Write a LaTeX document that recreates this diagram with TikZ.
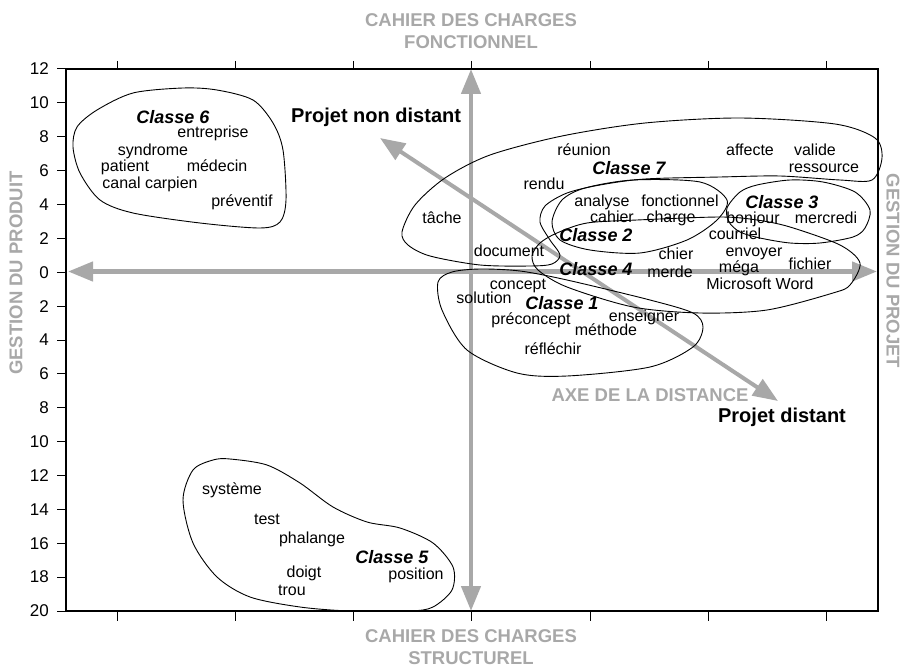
\documentclass[tikz,border=0pt]{standalone}
\usepackage{fontspec}
\setmainfont{Liberation Sans}
\usetikzlibrary{arrows.meta}
\definecolor{axisgray}{RGB}{168,168,168}

\begin{document}
\begin{tikzpicture}[x=1pt,y=-1pt,
	word/.style={inner sep=0pt,text height=11.5pt,text depth=3.4pt,font=\fontsize{16}{18}\selectfont},
	classe/.style={inner sep=0pt,text height=13pt,text depth=0pt,font=\fontsize{18}{20}\selectfont\bfseries\itshape},
	pole/.style={inner sep=0pt,font=\fontsize{20}{22}\selectfont\bfseries},
	axislabel/.style={inner sep=0pt,text=axisgray,align=center,font=\fontsize{18.5}{22.5}\selectfont\bfseries},
	ticklabel/.style={inner sep=0pt,anchor=east,font=\fontsize{17}{19}\selectfont},
	blob/.style={line width=0.9pt},
	bigarrow/.style={draw=axisgray,fill=axisgray,line width=4.5pt,
		{Triangle[length=25pt,width=19pt]}-{Triangle[length=25pt,width=19pt]}}]
		\useasboundingbox (0,0) rectangle (906,669);
		% frame and ticks
		\draw[line width=1.1pt] (66,69) rectangle (878,611);
		\foreach \lab [count=\i from 0] in {12,10,8,6,4,2,0,2,4,6,8,10,12,14,16,18,20}{
			\draw[line width=1pt] (57,{69+33.875*\i}) -- (66,{69+33.875*\i});
			\node[ticklabel] (ylab\i) at (49,{69+33.875*\i}) {\lab};
		}
		\foreach \k in {0,...,6}{
			\draw[line width=1pt] ({117+118.33*\k},61) -- ({117+118.33*\k},69);
			\draw[line width=1pt] ({117+118.33*\k},611) -- ({117+118.33*\k},621);
		}
		%
		\coordinate (top) at (471,69);
		\coordinate (bot) at (471,611);
		\coordinate (left) at (68,271.5);
		\coordinate (right) at (877,271.5);
		\coordinate (near) at (380,138);
		\coordinate (far) at (778,401);
		% main axes
		\draw[bigarrow] (left) -- (right);
		\draw[bigarrow] (bot) -- (top);
		% distance axis
		\draw[bigarrow,line width=4pt] (near) -- (far);
		%
		\node[axislabel] (fonct) at (471,31) {CAHIER DES CHARGES\\FONCTIONNEL};
		\node[axislabel] (struct) at (471,647) {CAHIER DES CHARGES\\STRUCTUREL};
		\node[axislabel,rotate=90] (produit) at (16,273) {GESTION DU PRODUIT};
		\node[axislabel,rotate=-90] (projet) at (893,271) {GESTION DU PROJET};
		\node[axislabel] (dist) at (650,395) {AXE DE LA DISTANCE};
		\node[pole] (nondist) at (376,117) {Projet non distant};
		\node[pole] (distant) at (782,417) {Projet distant};
		%
		% classe 6
		\draw[blob] plot[smooth cycle] coordinates {(77,127) (73,147) (80,173) (100,200) (133,213) (200,223)
			(260,228) (280,222) (286,200) (283,150) (273,123) (253,100) (217,90) (183,88) (133,93) (97,110)};
		\node[classe] (c6) at (173,117) {Classe 6};
		\node[word] (entreprise) at (213,133) {entreprise};
		\node[word] (syndrome) at (153,151) {syndrome};
		\node[word] (patient) at (125,167) {patient};
		\node[word] (medecin) at (217,167) {médecin};
		\node[word] (canal) at (150,184) {canal carpien};
		\node[word] (preventif) at (242,202) {préventif};
		%
		% classe 5
		\draw[blob] plot[smooth cycle] coordinates {(230,459) (267,465) (300,483) (333,507) (367,522) (400,528)
			(433,543) (453,567) (452,590) (433,607) (410,611) (350,611) (300,607) (250,597) (217,577)
			(193,543) (183,500) (193,470) (213,460)};
		\node[word] (systeme) at (232,490) {système};
		\node[word] (test) at (267,520) {test};
		\node[word] (phalange) at (312,539) {phalange};
		\node[classe] (c5) at (392,557) {Classe 5};
		\node[word] (doigt) at (304,573) {doigt};
		\node[word] (position) at (416,575) {position};
		\node[word] (trou) at (292,591) {trou};
		%
		% classe 7
		\draw[blob] plot[smooth cycle] coordinates {(402,232) (415,205) (445,178) (490,155) (562,136) (645,123)
			(740,118) (835,124) (875,138) (882,158) (872,180) (840,180) (780,176) (720,177) (645,179)
			(600,185) (567,193) (545,206) (540,222) (550,240) (560,255) (552,264) (530,266) (480,265)
			(430,256) (408,245)};
		\node[word] (reunion) at (584,151) {réunion};
		\node[word] (affecte) at (750,151) {affecte};
		\node[word] (valide) at (815,151) {valide};
		\node[word] (ressource) at (824,168) {ressource};
		\node[classe] (c7) at (629,168) {Classe 7};
		\node[word] (rendu) at (544,185) {rendu};
		\node[word] (tache) at (442,219) {tâche};
		\node[word] (document) at (509,252) {document};
		%
		% classe 2
		\draw[blob] plot[smooth cycle] coordinates {(552,222) (562,200) (585,188) (633,180) (700,182) (727,200)
			(717,220) (687,240) (640,253) (590,250) (560,240)};
		\node[word] (analyse) at (602,202) {analyse};
		\node[word] (fonctionnel) at (680,202) {fonctionnel};
		\node[word] (cahier) at (612,218) {cahier};
		\node[word] (charge) at (671,218) {charge};
		\node[classe] (c2) at (596,235) {Classe 2};
		%
		% classe 3
		\draw[blob] plot[smooth cycle] coordinates {(727,208) (740,192) (757,185) (790,180) (823,182) (855,192)
			(870,210) (865,228) (853,237) (820,243) (790,243) (760,238) (740,232) (729,222)};
		\node[classe] (c3) at (782,202) {Classe 3};
		\node[word] (bonjour) at (753,219) {bonjour};
		\node[word] (mercredi) at (826,219) {mercredi};
		%
		% classe 4
		\draw[blob] plot[smooth cycle] coordinates {(532,256) (540,243) (557,233) (587,223) (637,220) (720,217)
			(757,220) (790,227) (840,245) (860,263) (850,285) (833,293) (767,310) (700,313) (633,307)
			(567,287) (538,270)};
		\node[word] (courriel) at (735,235) {courriel};
		\node[word] (chier) at (676,255) {chier};
		\node[word] (envoyer) at (754,252) {envoyer};
		\node[classe] (c4) at (596,269) {Classe 4};
		\node[word] (merde) at (670,273) {merde};
		\node[word] (mega) at (739,268) {méga};
		\node[word] (fichier) at (810,265) {fichier};
		\node[word] (word) at (760,285) {Microsoft Word};
		%
		% classe 1
		\draw[blob] plot[smooth cycle] coordinates {(438,282) (452,272) (480,269) (520,271) (567,280) (650,300)
			(693,313) (703,327) (693,347) (650,367) (567,376) (517,373) (467,350) (442,310)};
		\node[word] (concept) at (518,285) {concept};
		\node[word] (solution) at (484,299) {solution};
		\node[classe] (c1) at (562,303) {Classe 1};
		\node[word] (preconcept) at (531,320) {préconcept};
		\node[word] (enseigner) at (644,317) {enseigner};
		\node[word] (methode) at (606,331) {méthode};
		\node[word] (reflechir) at (553,350) {réfléchir};
	\end{tikzpicture}
\end{document}
